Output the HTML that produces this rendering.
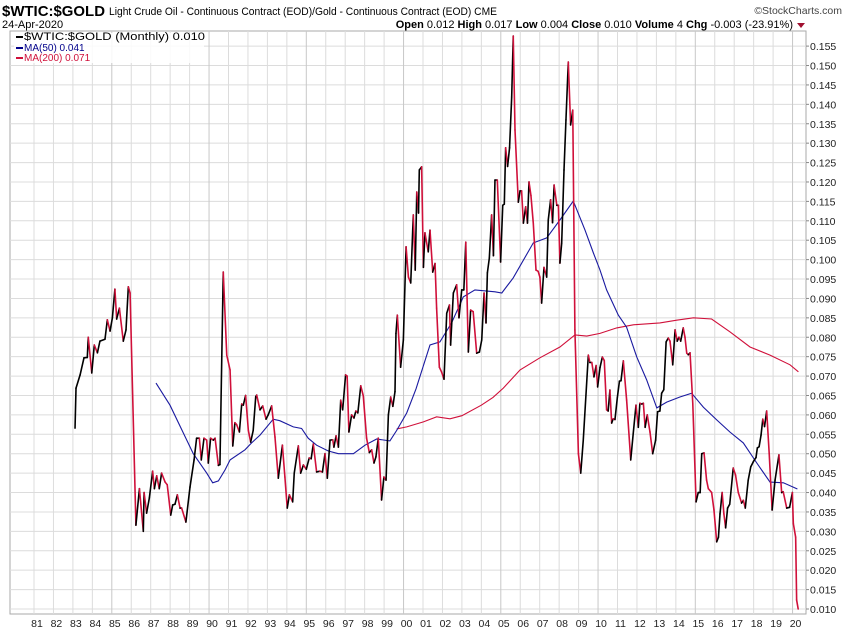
<!DOCTYPE html>
<html><head><meta charset="utf-8">
<style>
html,body{margin:0;padding:0;background:#fff;}
body{width:850px;height:633px;overflow:hidden;position:relative;font-family:"Liberation Sans",Arial,sans-serif;}
svg text{font-family:"Liberation Sans",Arial,sans-serif;}
</style></head>
<body>
<svg id="chart" width="850" height="633" viewBox="0 0 850 633" xmlns="http://www.w3.org/2000/svg">
  <g>
    <text x="2" y="16" font-size="15" font-weight="bold" textLength="103" lengthAdjust="spacingAndGlyphs">$WTIC:$GOLD</text>
    <text x="109" y="15" font-size="11" textLength="388" lengthAdjust="spacingAndGlyphs">Light Crude Oil - Continuous Contract (EOD)/Gold - Continuous Contract (EOD)  CME</text>
    <text x="842" y="14" font-size="10.5" text-anchor="end" fill="#444">©StockCharts.com</text>
    <text x="2" y="28" font-size="11">24-Apr-2020</text>
    <text x="793" y="28" font-size="11" text-anchor="end"><tspan font-weight="bold">Open</tspan> 0.012 <tspan font-weight="bold">High</tspan> 0.017 <tspan font-weight="bold">Low</tspan> 0.004 <tspan font-weight="bold">Close</tspan> 0.010 <tspan font-weight="bold">Volume</tspan> 4 <tspan font-weight="bold">Chg</tspan> -0.003 (-23.91%)</text>
    <polygon points="797,23 805,23 801,28" fill="#a01030"/>
  </g>
  <rect x="10" y="31" width="796" height="583" fill="#fff" stroke="#aaa" stroke-width="1"/>
  <g id="grid"></g>
  <g id="yaxis"></g>
  <g id="xaxis"></g>
  <g id="series"></g>
  <g>
    <rect x="14" y="33" width="190" height="30" fill="#fff" opacity="0.85"/>
    <line x1="16" y1="37" x2="23" y2="37" stroke="#000" stroke-width="2"/>
    <text x="24" y="40" font-size="11" textLength="181" lengthAdjust="spacingAndGlyphs">$WTIC:$GOLD (Monthly) 0.010</text>
    <line x1="16" y1="48" x2="23" y2="48" stroke="#00008b" stroke-width="2"/>
    <text x="24" y="51" font-size="10" fill="#00008b">MA(50) 0.041</text>
    <line x1="16" y1="58" x2="23" y2="58" stroke="#d0103a" stroke-width="2"/>
    <text x="24" y="61" font-size="10" fill="#d0103a">MA(200) 0.071</text>
  </g>
</svg>
<script>
const priceDates=[1983.11,1983.16,1983.37,1983.57,1983.74,1983.79,1983.97,1984.10,1984.26,1984.39,1984.65,1984.77,1984.91,1985.03,1985.16,1985.25,1985.39,1985.59,1985.73,1985.85,1985.94,1986.24,1986.42,1986.62,1986.66,1986.79,1986.93,1987.10,1987.19,1987.31,1987.44,1987.56,1987.74,1987.85,1988.03,1988.13,1988.25,1988.37,1988.51,1988.59,1988.81,1989.02,1989.23,1989.36,1989.50,1989.60,1989.74,1989.88,1989.96,1990.08,1990.22,1990.31,1990.48,1990.56,1990.73,1990.91,1991.08,1991.22,1991.33,1991.42,1991.56,1991.68,1991.76,1991.88,1992.02,1992.14,1992.27,1992.40,1992.45,1992.62,1992.76,1992.93,1993.04,1993.22,1993.39,1993.56,1993.77,1993.90,1994.02,1994.13,1994.30,1994.38,1994.59,1994.71,1994.85,1995.00,1995.15,1995.25,1995.36,1995.53,1995.70,1995.83,1995.96,1996.08,1996.22,1996.36,1996.42,1996.53,1996.65,1996.77,1996.87,1997.02,1997.10,1997.19,1997.33,1997.45,1997.55,1997.65,1997.80,1997.93,1998.10,1998.24,1998.36,1998.48,1998.58,1998.70,1998.87,1998.99,1999.10,1999.22,1999.34,1999.45,1999.56,1999.61,1999.68,1999.85,1999.99,2000.13,2000.25,2000.37,2000.50,2000.60,2000.68,2000.77,2000.81,2000.93,2001.02,2001.10,2001.27,2001.36,2001.50,2001.62,2001.70,2001.84,2001.96,2002.08,2002.22,2002.36,2002.42,2002.56,2002.73,2002.85,2002.99,2003.10,2003.20,2003.33,2003.45,2003.58,2003.76,2003.90,2004.02,2004.14,2004.24,2004.31,2004.41,2004.53,2004.62,2004.70,2004.82,2004.99,2005.10,2005.18,2005.25,2005.35,2005.45,2005.56,2005.64,2005.73,2005.90,2005.99,2006.07,2006.16,2006.28,2006.37,2006.45,2006.55,2006.67,2006.81,2006.92,2007.01,2007.10,2007.22,2007.36,2007.44,2007.56,2007.66,2007.74,2007.88,2007.96,2008.04,2008.13,2008.25,2008.35,2008.47,2008.59,2008.70,2008.81,2008.99,2009.11,2009.24,2009.50,2009.58,2009.68,2009.79,2009.90,2009.98,2010.10,2010.22,2010.32,2010.44,2010.52,2010.61,2010.70,2010.78,2010.87,2010.99,2011.10,2011.18,2011.30,2011.47,2011.68,2011.81,2011.95,2012.07,2012.15,2012.25,2012.33,2012.42,2012.53,2012.67,2012.81,2012.96,2013.06,2013.18,2013.27,2013.38,2013.50,2013.61,2013.70,2013.84,2013.96,2014.07,2014.16,2014.25,2014.38,2014.47,2014.56,2014.64,2014.73,2014.87,2015.04,2015.15,2015.25,2015.33,2015.45,2015.58,2015.67,2015.84,2015.96,2016.10,2016.19,2016.27,2016.38,2016.47,2016.56,2016.66,2016.77,2016.95,2017.07,2017.21,2017.38,2017.47,2017.57,2017.72,2017.85,2017.99,2018.12,2018.19,2018.28,2018.38,2018.47,2018.56,2018.67,2018.80,2018.95,2019.10,2019.30,2019.44,2019.52,2019.70,2019.85,2019.99,2020.04,2020.16,2020.21,2020.29];
const priceValues=[0.0566,0.0669,0.0703,0.0747,0.0748,0.0800,0.0708,0.0780,0.0760,0.0790,0.0795,0.0845,0.0816,0.0850,0.0924,0.0847,0.0875,0.0790,0.0819,0.0930,0.0914,0.0316,0.0410,0.0300,0.0400,0.0347,0.0386,0.0455,0.0410,0.0443,0.0410,0.0450,0.0427,0.0420,0.0342,0.0368,0.0370,0.0394,0.0360,0.0360,0.0324,0.0414,0.0484,0.0540,0.0540,0.0484,0.0540,0.0535,0.0476,0.0540,0.0535,0.0540,0.0470,0.0472,0.0968,0.0754,0.0716,0.0520,0.0580,0.0575,0.0556,0.0628,0.0625,0.0650,0.0560,0.0530,0.0560,0.0647,0.0651,0.0613,0.0623,0.0589,0.0600,0.0623,0.0543,0.0437,0.0522,0.0440,0.0360,0.0394,0.0376,0.0450,0.0520,0.0450,0.0471,0.0460,0.0489,0.0487,0.0525,0.0453,0.0455,0.0453,0.0500,0.0437,0.0535,0.0536,0.0517,0.0546,0.0517,0.0638,0.0613,0.0703,0.0700,0.0556,0.0600,0.0592,0.0610,0.0605,0.0675,0.0649,0.0540,0.0503,0.0510,0.0476,0.0492,0.0540,0.0381,0.0440,0.0432,0.0600,0.0646,0.0622,0.0660,0.0810,0.0857,0.0723,0.0793,0.1033,0.0955,0.0940,0.1115,0.0973,0.1174,0.1120,0.1231,0.1239,0.0980,0.1069,0.1020,0.1076,0.0968,0.0990,0.0875,0.0723,0.0710,0.0692,0.0862,0.0883,0.0780,0.0914,0.0935,0.0850,0.0922,0.0922,0.1045,0.0762,0.0870,0.0866,0.0759,0.0762,0.0793,0.0914,0.0837,0.0966,0.1004,0.1115,0.1010,0.1205,0.1205,0.0994,0.1140,0.1143,0.1288,0.1240,0.1288,0.1419,0.1576,0.1334,0.1148,0.1177,0.1177,0.1094,0.1136,0.1094,0.1200,0.1165,0.1094,0.0973,0.0970,0.0955,0.0888,0.0980,0.0955,0.1102,0.1154,0.1095,0.1192,0.1140,0.1140,0.0991,0.1042,0.1231,0.1360,0.1509,0.1347,0.1385,0.0819,0.0500,0.0450,0.0535,0.0754,0.0735,0.0735,0.0698,0.0727,0.0672,0.0722,0.0749,0.0740,0.0613,0.0610,0.0664,0.0579,0.0590,0.0588,0.0644,0.0687,0.0688,0.0739,0.0638,0.0484,0.0553,0.0625,0.0568,0.0630,0.0628,0.0630,0.0568,0.0600,0.0556,0.0500,0.0535,0.0608,0.0610,0.0656,0.0665,0.0788,0.0798,0.0790,0.0729,0.0819,0.0790,0.0800,0.0790,0.0824,0.0800,0.0759,0.0755,0.0760,0.0630,0.0376,0.0400,0.0400,0.0500,0.0502,0.0432,0.0410,0.0400,0.0355,0.0273,0.0285,0.0345,0.0400,0.0345,0.0309,0.0360,0.0370,0.0463,0.0445,0.0400,0.0373,0.0380,0.0360,0.0432,0.0466,0.0480,0.0490,0.0515,0.0518,0.0548,0.0589,0.0570,0.0610,0.0500,0.0355,0.0432,0.0497,0.0400,0.0402,0.0360,0.0362,0.0400,0.0320,0.0285,0.0123,0.0100];
const ma50Dates=[1987.27,1987.99,1988.68,1989.19,1989.88,1990.19,1990.48,1990.82,1991.08,1991.85,1992.19,1992.62,1993.30,1993.64,1994.33,1994.76,1995.10,1995.53,1996.13,1996.65,1997.42,1998.02,1998.62,1999.30,1999.65,2000.16,2000.64,2001.36,2001.87,2002.47,2003.07,2003.67,2004.70,2005.05,2005.64,2006.67,2007.36,2008.04,2008.73,2009.33,2009.76,2010.10,2010.44,2011.04,2011.47,2011.99,2012.50,2013.02,2013.53,2014.21,2014.81,2015.41,2016.10,2016.78,2017.47,2018.16,2018.84,2019.53,2020.25];
const ma50Values=[0.0682,0.0625,0.0553,0.0500,0.0450,0.0425,0.0430,0.0458,0.0484,0.0510,0.0528,0.0548,0.0589,0.0585,0.0569,0.0565,0.0540,0.0522,0.0507,0.0500,0.0500,0.0522,0.0538,0.0533,0.0560,0.0605,0.0667,0.0780,0.0788,0.0837,0.0904,0.0922,0.0917,0.0914,0.0953,0.1043,0.1056,0.1102,0.1151,0.1076,0.1017,0.0973,0.0922,0.0857,0.0826,0.0749,0.0690,0.0618,0.0633,0.0646,0.0656,0.0620,0.0587,0.0556,0.0528,0.0476,0.0427,0.0425,0.0409];
const ma200Dates=[1999.65,2000.16,2001.02,2001.70,2002.39,2003.00,2004.00,2004.60,2005.13,2005.99,2007.01,2008.04,2008.81,2009.42,2010.10,2010.96,2011.81,2013.18,2014.04,2014.90,2015.84,2016.78,2017.81,2018.84,2019.87,2020.30];
const ma200Values=[0.0564,0.0569,0.0582,0.0595,0.0590,0.0598,0.0625,0.0645,0.0669,0.0716,0.0747,0.0775,0.0806,0.0803,0.0810,0.0824,0.0832,0.0837,0.0844,0.0850,0.0847,0.0814,0.0775,0.0754,0.0729,0.0711];
const yTicks=[0.010,0.015,0.020,0.025,0.030,0.035,0.040,0.045,0.050,0.055,0.060,0.065,0.070,0.075,0.080,0.085,0.090,0.095,0.100,0.105,0.110,0.115,0.120,0.125,0.130,0.135,0.140,0.145,0.150,0.155];
const xYears=[1981,1982,1983,1984,1985,1986,1987,1988,1989,1990,1991,1992,1993,1994,1995,1996,1997,1998,1999,2000,2001,2002,2003,2004,2005,2006,2007,2008,2009,2010,2011,2012,2013,2014,2015,2016,2017,2018,2019,2020];

const NS='http://www.w3.org/2000/svg';
function xs(d){return 34+(d-1981)*19.45;}
function ys(v){return 609-(v-0.010)/0.005*19.41;}
function mk(tag,attrs,parent){const e=document.createElementNS(NS,tag);for(const k in attrs)e.setAttribute(k,attrs[k]);parent.appendChild(e);return e;}
const grid=document.getElementById('grid'),yax=document.getElementById('yaxis'),xax=document.getElementById('xaxis'),ser=document.getElementById('series');

yTicks.forEach(t=>{
  const y=ys(t);
  const gl=mk('line',{x1:10,x2:806,y1:y,y2:y,stroke:'#dcdcdc','stroke-width':1},grid);
  
  
  const tk=mk('line',{x1:806,x2:809,y1:y,y2:y,stroke:'#888'},yax);
  
  
  const tx=mk('text',{x:810,y:y+4,'font-size':10.5,fill:'#222'},yax);
  tx.textContent=t.toFixed(3);
  
  
});
xYears.forEach(yr=>{
  const x=xs(yr);
  const gl=mk('line',{x1:x,x2:x,y1:31,y2:614,stroke:(yr%5===0)?'#c8c8c8':'#dcdcdc','stroke-width':1},grid);
  
  
  const tx=mk('text',{x:x+3,y:627,'font-size':10.5,'text-anchor':'middle',fill:'#222'},xax);
  tx.textContent=String(yr%100).padStart(2,'0');
  
  
});

function pathD(ds,vs){return ds.map((d,i)=>(i?'L':'M')+xs(d).toFixed(1)+' '+ys(vs[i]).toFixed(1)).join(' ');}
const m200=mk('path',{d:pathD(ma200Dates,ma200Values),fill:'none',stroke:'#d0103a','stroke-width':1.1},ser);


const m50=mk('path',{d:pathD(ma50Dates,ma50Values),fill:'none',stroke:'#1a1aa0','stroke-width':1.1},ser);


for(let i=1;i<priceDates.length;i++){
  const up=priceValues[i]>=priceValues[i-1];
  const s=mk('line',{x1:xs(priceDates[i-1]),y1:ys(priceValues[i-1]),x2:xs(priceDates[i]),y2:ys(priceValues[i]),stroke:up?'#000':'#d0103a','stroke-width':1.6,'stroke-linecap':'round'},ser);
  
  
}
</script>
</body></html>
